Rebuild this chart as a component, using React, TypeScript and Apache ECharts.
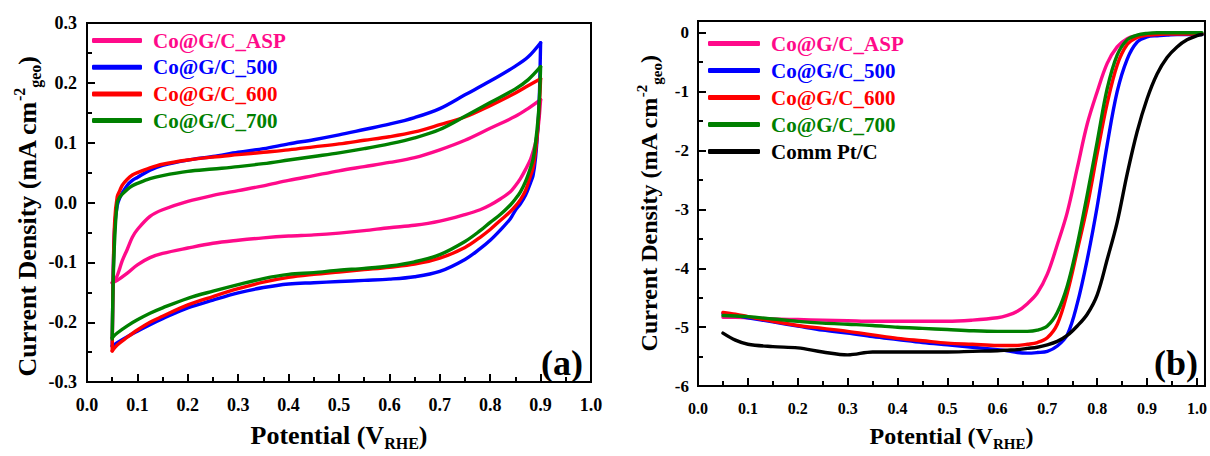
import React, { useEffect, useRef } from "react";
import * as echarts from "echarts";

// ---------- (a) CV data ----------
const sampleNames = ["Co@G/C_ASP", "Co@G/C_500", "Co@G/C_600", "Co@G/C_700"];
const lsvNames = ["Co@G/C_ASP", "Co@G/C_500", "Co@G/C_600", "Co@G/C_700", "Comm Pt/C"];
const seriesColors = ["#FF0A8A", "#0000FF", "#FF0000", "#008000", "#000000"];

const cvUpperPotential = [0.05, 0.052, 0.055, 0.06, 0.065, 0.07, 0.08, 0.09, 0.1, 0.125, 0.15, 0.2, 0.25, 0.3, 0.35, 0.4, 0.45, 0.5, 0.55, 0.6, 0.65, 0.7, 0.75, 0.8, 0.85, 0.875, 0.9];
const cvLowerPotential = [0.9, 0.898, 0.895, 0.89, 0.885, 0.88, 0.87, 0.86, 0.85, 0.84, 0.82, 0.8, 0.78, 0.75, 0.7, 0.65, 0.6, 0.55, 0.5, 0.45, 0.4, 0.35, 0.3, 0.25, 0.2, 0.15, 0.125, 0.1, 0.08, 0.06, 0.05];

const cvAspUpper = [-0.134, -0.133, -0.13, -0.122, -0.11, -0.097, -0.078, -0.058, -0.045, -0.023, -0.012, 0.002, 0.012, 0.02, 0.028, 0.037, 0.045, 0.053, 0.06, 0.067, 0.075, 0.088, 0.104, 0.124, 0.144, 0.157, 0.172];
const cvAspLower = [0.172, 0.15, 0.125, 0.1, 0.085, 0.072, 0.055, 0.04, 0.028, 0.018, 0.006, -0.004, -0.012, -0.02, -0.031, -0.038, -0.042, -0.047, -0.051, -0.054, -0.056, -0.059, -0.063, -0.068, -0.076, -0.085, -0.092, -0.104, -0.118, -0.13, -0.134];

const cv500Upper = [-0.24, -0.12, -0.04, -0.005, 0.008, 0.016, 0.029, 0.037, 0.042, 0.054, 0.062, 0.071, 0.077, 0.084, 0.09, 0.098, 0.105, 0.113, 0.122, 0.131, 0.142, 0.157, 0.18, 0.203, 0.228, 0.243, 0.267];
const cv500Lower = [0.267, 0.19, 0.13, 0.075, 0.045, 0.033, 0.012, -0.002, -0.013, -0.027, -0.046, -0.063, -0.077, -0.095, -0.115, -0.124, -0.128, -0.13, -0.132, -0.134, -0.136, -0.142, -0.151, -0.163, -0.176, -0.194, -0.204, -0.215, -0.224, -0.234, -0.24];

const cv600Upper = [-0.248, -0.12, -0.03, 0.01, 0.02, 0.029, 0.039, 0.046, 0.05, 0.058, 0.064, 0.071, 0.076, 0.08, 0.084, 0.088, 0.093, 0.098, 0.104, 0.11, 0.118, 0.13, 0.143, 0.162, 0.183, 0.195, 0.207];
const cv600Lower = [0.207, 0.17, 0.13, 0.085, 0.058, 0.045, 0.02, 0.005, -0.006, -0.015, -0.03, -0.045, -0.058, -0.075, -0.093, -0.103, -0.108, -0.112, -0.116, -0.12, -0.125, -0.133, -0.144, -0.157, -0.171, -0.19, -0.2, -0.213, -0.225, -0.238, -0.248];

const cv700Upper = [-0.228, -0.13, -0.06, 0.0, 0.009, 0.014, 0.022, 0.028, 0.032, 0.04, 0.045, 0.052, 0.056, 0.06, 0.065, 0.071, 0.077, 0.083, 0.09, 0.098, 0.108, 0.122, 0.144, 0.167, 0.19, 0.205, 0.227];
const cv700Lower = [0.227, 0.18, 0.14, 0.1, 0.072, 0.058, 0.035, 0.018, 0.006, -0.004, -0.02, -0.033, -0.047, -0.065, -0.087, -0.099, -0.106, -0.11, -0.113, -0.117, -0.12, -0.127, -0.137, -0.148, -0.16, -0.176, -0.185, -0.196, -0.206, -0.218, -0.226];

// ---------- (b) LSV data ----------
const lsvPotential = [0.05, 0.075, 0.1, 0.15, 0.2, 0.25, 0.3, 0.35, 0.4, 0.45, 0.5, 0.55, 0.6, 0.62, 0.64, 0.66, 0.68, 0.7, 0.72, 0.74, 0.76, 0.78, 0.8, 0.82, 0.84, 0.86, 0.88, 0.9, 0.92, 0.94, 0.96, 0.98, 1.0, 1.01];
const lsvAsp = [-4.83, -4.83, -4.84, -4.86, -4.87, -4.88, -4.89, -4.9, -4.9, -4.9, -4.9, -4.88, -4.84, -4.8, -4.73, -4.6, -4.42, -4.1, -3.6, -3.05, -2.3, -1.55, -1.0, -0.52, -0.24, -0.1, -0.05, -0.03, -0.02, -0.02, -0.02, -0.02, -0.02, -0.02];
const lsv500 = [-4.77, -4.8, -4.84, -4.91, -4.98, -5.05, -5.1, -5.16, -5.21, -5.26, -5.3, -5.34, -5.38, -5.4, -5.43, -5.44, -5.43, -5.41, -5.32, -5.13, -4.6, -3.85, -2.95, -1.9, -1.0, -0.45, -0.16, -0.07, -0.05, -0.04, -0.03, -0.03, -0.03, -0.03];
const lsv600 = [-4.75, -4.78, -4.82, -4.9, -4.97, -5.02, -5.07, -5.13, -5.19, -5.23, -5.27, -5.29, -5.31, -5.31, -5.31, -5.29, -5.26, -5.18, -4.95, -4.42, -3.7, -2.95, -2.05, -1.2, -0.55, -0.2, -0.08, -0.04, -0.03, -0.02, -0.02, -0.02, -0.02, -0.02];
const lsv700 = [-4.8, -4.81, -4.82, -4.86, -4.9, -4.93, -4.95, -4.97, -5.0, -5.02, -5.04, -5.06, -5.07, -5.07, -5.07, -5.07, -5.05, -4.98, -4.75, -4.3, -3.6, -2.75, -1.85, -0.95, -0.38, -0.12, -0.04, -0.01, 0.0, 0.0, 0.0, 0.0, 0.0, 0.0];
const lsvPtC = [-5.1, -5.22, -5.29, -5.33, -5.35, -5.42, -5.47, -5.42, -5.42, -5.42, -5.42, -5.41, -5.4, -5.39, -5.38, -5.36, -5.34, -5.3, -5.24, -5.14, -4.98, -4.78, -4.45, -3.85, -3.22, -2.4, -1.68, -1.12, -0.7, -0.42, -0.24, -0.12, -0.05, -0.03];

// ---------- axis ticks ----------
const cvPotentialTicks = { min: 0, max: 1, interval: 0.1 };
const cvCurrentTicks = { min: -0.3, max: 0.3, interval: 0.1 };
const lsvPotentialTicks = { min: 0, max: 1.016, interval: 0.1 };
const lsvCurrentTicks = { min: -6, max: 0.2, interval: 1 };

const FONT = '"Liberation Serif", "Times New Roman", serif';

const zip = (xs: number[], ys: number[]) => xs.map((x, i) => [x, ys[i]]);

function valueAxis(
  gridIndex: number,
  ticks: { min: number; max: number; interval: number },
  decimals: number,
  labelSize: number,
  nameSize: number,
  labelMargin: number,
  extra: any
) {
  const subSize = Math.round(nameSize * 0.62);
  return {
    type: "value",
    gridIndex,
    min: ticks.min,
    max: ticks.max,
    interval: ticks.interval,
    splitLine: { show: false },
    axisLine: { show: true, onZero: false, lineStyle: { color: "#000", width: 2 } },
    axisTick: { show: true, inside: true, length: 8, lineStyle: { color: "#000", width: 2 } },
    minorTick: { show: true, splitNumber: 2, length: 5, lineStyle: { color: "#000", width: 2 } },
    axisLabel: {
      color: "#000",
      fontFamily: FONT,
      fontWeight: "bold",
      fontSize: labelSize,
      margin: labelMargin,
      formatter: (v: number) => {
        const r = Math.round(v / ticks.interval);
        if (Math.abs(v - r * ticks.interval) > 1e-6) return "";
        return (r * ticks.interval).toFixed(decimals);
      },
    },
    nameLocation: "middle",
    nameTextStyle: {
      color: "#000",
      fontFamily: FONT,
      fontWeight: "bold",
      fontSize: nameSize,
      lineHeight: nameSize + 6,
      rich: {
        sub: { fontFamily: FONT, fontWeight: "bold", fontSize: subSize, color: "#000", verticalAlign: "bottom", lineHeight: subSize - 2 },
        sup: { fontFamily: FONT, fontWeight: "bold", fontSize: subSize, color: "#000", verticalAlign: "top", lineHeight: subSize - 2 },
      },
    },
    ...extra,
  };
}

export default function App() {
  const ref = useRef<HTMLDivElement>(null);

  useEffect(() => {
    if (!ref.current) return;
    const chart = echarts.init(ref.current, null, { renderer: "svg" });

    const cvSets = [
      [cvAspUpper, cvAspLower],
      [cv500Upper, cv500Lower],
      [cv600Upper, cv600Lower],
      [cv700Upper, cv700Lower],
    ];
    const lsvSets = [lsvAsp, lsv500, lsv600, lsv700, lsvPtC];

    const lineBase = (name: string, color: string) => ({
      name,
      type: "line",
      symbol: "none",
      showSymbol: false,
      color,
      itemStyle: { color },
      lineStyle: { color, width: 3.4, cap: "round", join: "round" },
      silent: true,
      z: 3,
    });

    const series: any[] = [];
    cvSets.forEach(([up, low], i) => {
      series.push({
        ...lineBase(sampleNames[i], seriesColors[i]),
        xAxisIndex: 0,
        yAxisIndex: 0,
        smooth: 0.35,
        data: zip(cvUpperPotential, up),
      });
      series.push({
        ...lineBase(sampleNames[i], seriesColors[i]),
        xAxisIndex: 0,
        yAxisIndex: 0,
        smooth: 0.35,
        data: zip(cvLowerPotential, low),
      });
    });
    lsvSets.forEach((vals, i) => {
      series.push({
        ...lineBase(lsvNames[i], seriesColors[i]),
        xAxisIndex: 1,
        yAxisIndex: 1,
        smooth: 0.35,
        data: zip(lsvPotential, vals),
      });
    });

    const legendText = { fontFamily: FONT, fontWeight: "bold", fontSize: 21, lineHeight: 20, padding: [0, 0, 0, 6] };

    const option: any = {
      animation: false,
      backgroundColor: "#fff",
      grid: [
        { left: 87, top: 23, width: 504, height: 369, show: true, borderColor: "#000", borderWidth: 2 },
        { left: 698, top: 21, width: 508, height: 372, show: true, borderColor: "#000", borderWidth: 2 },
      ],
      xAxis: [
        valueAxis(0, cvPotentialTicks, 1, 18, 26, 14, {
          name: "Potential (V{sub|RHE})",
          nameGap: 26,
        }),
        valueAxis(1, lsvPotentialTicks, 1, 16, 24, 14, {
          name: "Potential (V{sub|RHE})",
          nameGap: 20,
        }),
      ],
      yAxis: [
        valueAxis(0, cvCurrentTicks, 1, 18, 26, 10, {
          name: "Current Density (mA cm{sup|-2}{sub|geo})",
          nameGap: 44,
          nameTextStyle: undefined,
        }),
        valueAxis(1, lsvCurrentTicks, 0, 17, 24, 9, {
          name: "Current Density (mA cm{sup|-2}{sub|geo})",
          nameGap: 34,
        }),
      ],
      legend: [
        {
          orient: "vertical",
          left: 92,
          top: 30,
          padding: 0,
          icon: "roundRect",
          itemWidth: 50,
          itemHeight: 5,
          itemGap: 5.7,
          selectedMode: false,
          textStyle: legendText,
          data: sampleNames.map((n, i) => ({ name: n, textStyle: { color: seriesColors[i] } })),
        },
        {
          orient: "vertical",
          left: 708,
          top: 33,
          padding: 0,
          icon: "roundRect",
          itemWidth: 52,
          itemHeight: 5,
          itemGap: 6,
          selectedMode: false,
          textStyle: legendText,
          data: lsvNames.map((n, i) => ({ name: n, textStyle: { color: seriesColors[i] } })),
        },
      ],
      graphic: [
        {
          type: "text",
          left: 541,
          top: 345,
          style: { text: "(a)", fontFamily: FONT, fontWeight: "bold", fontSize: 36, fill: "#000" },
        },
        {
          type: "text",
          left: 1154,
          top: 345,
          style: { text: "(b)", fontFamily: FONT, fontWeight: "bold", fontSize: 36, fill: "#000" },
        },
      ],
      series,
    };

    // shift the left y-axis title slightly downward, as in the reference
    const leftY = option.yAxis[0];
    const baseLeftY = valueAxis(0, cvCurrentTicks, 1, 18, 26, 10, {});
    leftY.nameTextStyle = { ...baseLeftY.nameTextStyle, padding: [0, 28, 0, 0] };

    chart.setOption(option);
    return () => chart.dispose();
  }, []);

  return (
    <div
      ref={ref}
      style={{ position: "fixed", left: 0, top: 0, width: 1210, height: 456, background: "#fff" }}
    />
  );
}
